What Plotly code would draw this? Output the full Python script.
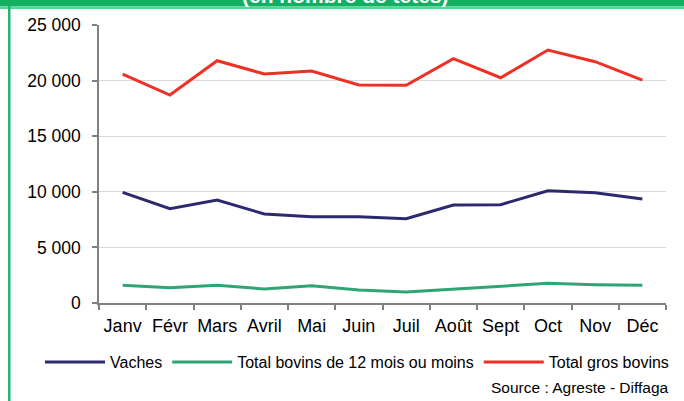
import plotly.graph_objects as go

months = ["Janv", "Févr", "Mars", "Avril", "Mai", "Juin", "Juil", "Août", "Sept", "Oct", "Nov", "Déc"]
vaches = [9950, 8480, 9260, 8000, 7760, 7750, 7580, 8810, 8840, 10100, 9920, 9350]
jeunes = [1590, 1380, 1590, 1260, 1560, 1170, 990, 1260, 1560, 1770, 1650, 1590]
gros = [20590, 18700, 21790, 20590, 20860, 19600, 19580, 21970, 20260, 22750, 21700, 20050]
y_ticks = [0, 5000, 10000, 15000, 20000, 25000]
y_labels = ["0", "5 000", "10 000", "15 000", "20 000", "25 000"]
series_names = ["Vaches", "Total bovins de 12 mois ou moins", "Total gros bovins"]
title_text = "(en nombre de têtes)"
source_text = "Source : Agreste - Diffaga"

W, H = 684, 401
L, R, T, B = 99, 684 - 666, 25, 401 - 303
pw, ph = W - L - R, H - T - B

def px(x):
    return (x - L) / pw

def py(y):
    return (H - B - y) / ph

FONT = "Liberation Sans, Arial, sans-serif"

fig = go.Figure()
for name, vals, col in [
    (series_names[0], vaches, "#2C2A6C"),
    (series_names[1], jeunes, "#2EA674"),
    (series_names[2], gros, "#EE3026"),
]:
    fig.add_trace(go.Scatter(x=months, y=vals, name=name, mode="lines",
                             line=dict(color=col, width=3)))

fig.update_layout(
    width=W, height=H,
    margin=dict(l=L, r=R, t=T, b=B),
    paper_bgcolor="white", plot_bgcolor="white",
    font=dict(family=FONT, color="#000000"),
    showlegend=True,
    legend=dict(orientation="h", x=px(40), y=py(362), xanchor="left", yanchor="middle",
                font=dict(size=16, family=FONT), itemwidth=60, tracegroupgap=0,
                bgcolor="rgba(0,0,0,0)"),
    xaxis=dict(type="category", tickson="boundaries", ticks="outside", ticklen=5,
               tickcolor="#808080", tickwidth=1.5, showline=True, linecolor="#808080",
               linewidth=1.5, showgrid=False, tickfont=dict(size=18, family=FONT),
               range=[-0.5, 11.5], tickangle=0, ticklabelstandoff=6),
    yaxis=dict(range=[0, 25000], tickvals=y_ticks, ticktext=y_labels, ticks="outside",
               ticklen=5, tickcolor="#808080", tickwidth=1.5, showline=True,
               linecolor="#808080", linewidth=1.5, showgrid=True, gridcolor="#D9D9D9",
               gridwidth=1, zeroline=False, tickfont=dict(size=17.5, family=FONT),
               ticklabelstandoff=8),
)

shapes = [
    dict(type="rect", xref="paper", yref="paper", x0=px(0), x1=px(W), y0=py(6.5), y1=py(-2),
         fillcolor="#12AF63", line=dict(width=0), layer="below"),
    dict(type="rect", xref="paper", yref="paper", x0=px(0), x1=px(W), y0=py(9), y1=py(6.5),
         fillcolor="#5BD29A", line=dict(width=0), layer="above"),
    dict(type="rect", xref="paper", yref="paper", x0=px(8), x1=px(10.5), y0=py(H + 2), y1=py(6),
         fillcolor="#1DB86E", line=dict(width=0), layer="above"),
]
fig.update_layout(shapes=shapes)

fig.add_annotation(text=f"<b>{title_text}</b>", xref="paper", yref="paper",
                   x=px(345), y=py(9), xanchor="center", yanchor="bottom",
                   showarrow=False, font=dict(size=21, color="white", family=FONT))
fig.add_annotation(text=source_text, xref="paper", yref="paper",
                   x=px(671), y=py(388), xanchor="right", yanchor="middle",
                   showarrow=False, font=dict(size=15.5, color="#000000", family=FONT))

fig.write_html("out.html", config={"displayModeBar": False},
               post_script="document.body.style.margin='0';document.body.style.overflow='hidden';")
